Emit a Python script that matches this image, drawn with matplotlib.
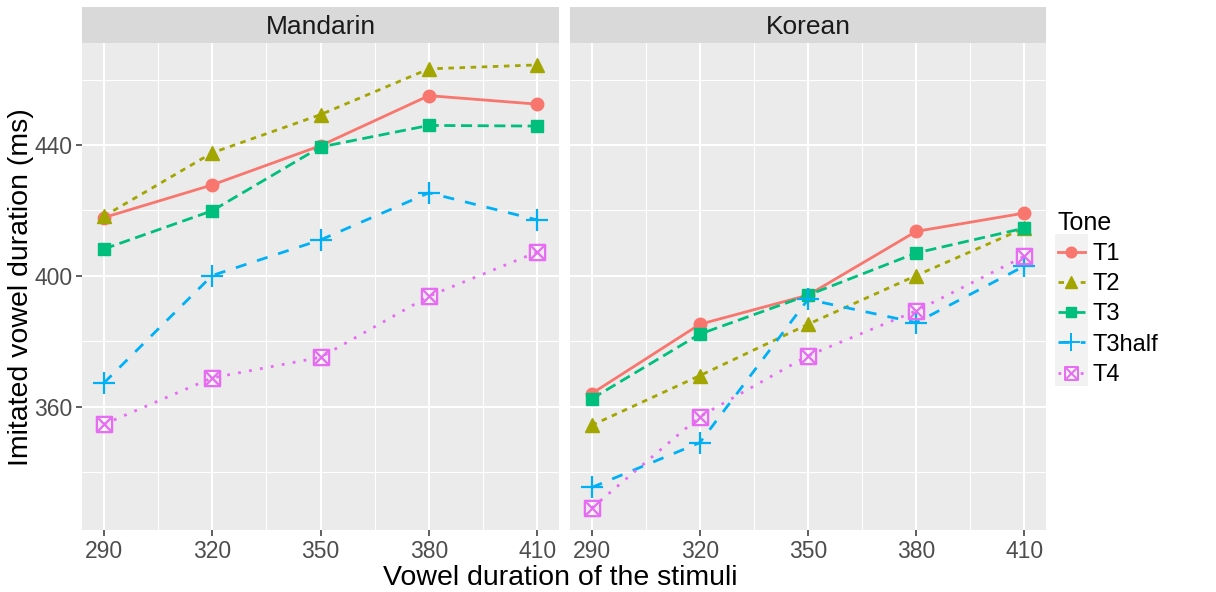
import numpy as np
import matplotlib
matplotlib.use("Agg")
import matplotlib.pyplot as plt
from matplotlib.path import Path
from matplotlib.lines import Line2D
from matplotlib.patches import Rectangle

plt.rcParams['font.family'] = ['Liberation Sans', 'DejaVu Sans']

# data
stimuli = [290, 320, 350, 380, 410]
tones = ["T1", "T2", "T3", "T3half", "T4"]
languages = ["Mandarin", "Korean"]

mandarin_t1 = [417.8, 427.8, 439.8, 455.1, 452.5]
mandarin_t2 = [418.2, 437.6, 449.3, 463.3, 464.5]
mandarin_t3 = [408.2, 419.9, 439.4, 446.0, 445.8]
mandarin_t3half = [367.2, 400.1, 411.0, 425.4, 417.1]
mandarin_t4 = [354.6, 368.8, 375.1, 393.8, 407.3]

korean_t1 = [364.0, 385.2, 394.1, 413.6, 419.2]
korean_t2 = [354.3, 369.5, 385.2, 400.1, 414.6]
korean_t3 = [362.4, 382.2, 394.1, 407.0, 414.6]
korean_t3half = [335.3, 349.0, 392.8, 385.7, 403.0]
korean_t4 = [329.0, 357.0, 375.6, 389.3, 406.0]

data = {
    "Mandarin": [mandarin_t1, mandarin_t2, mandarin_t3, mandarin_t3half, mandarin_t4],
    "Korean": [korean_t1, korean_t2, korean_t3, korean_t3half, korean_t4],
}

# ggplot hue palette + default linetypes/shapes
colors = ["#F8766D", "#A3A500", "#00BF7D", "#00B0F6", "#E76BF3"]
dashes = [None, (2, 2), (4, 2), (4, 4), (1, 3)]

# boxed cross marker (ggplot shape 7)
box_x = Path(
    [(-1, -1), (1, -1), (1, 1), (-1, 1), (-1, -1), (-1, -1), (1, 1), (-1, 1), (1, -1)],
    [Path.MOVETO, Path.LINETO, Path.LINETO, Path.LINETO, Path.CLOSEPOLY,
     Path.MOVETO, Path.LINETO, Path.MOVETO, Path.LINETO],
)
markers = ["o", "^", "s", "+", box_x]
msizes = [9, 10, 9, 16, 11]

W, H = 1216, 592
fig = plt.figure(figsize=(W / 100, H / 100), dpi=100)

def fx(px):
    return px / W

def fy(py):
    return 1 - py / H

panel_top, panel_bot = 43, 530
strip_top = 7
panels = [(82, 559), (570, 1046)]

tick_col = "#4D4D4D"
for i, lang in enumerate(languages):
    x0, x1 = panels[i]
    ax = fig.add_axes([fx(x0), fy(panel_bot), fx(x1 - x0), (panel_bot - panel_top) / H])
    ax.set_facecolor("#EBEBEB")
    for s in ax.spines.values():
        s.set_visible(False)
    ax.set_xlim(284, 416)
    ax.set_ylim(322.3, 471.2)
    ax.set_xticks(stimuli)
    ax.set_xticks([305, 335, 365, 395], minor=True)
    ax.set_yticks([360, 400, 440])
    ax.set_yticks([340, 380, 420, 460], minor=True)
    ax.grid(True, which="major", color="white", lw=1.5)
    ax.grid(True, which="minor", color="white", lw=0.75)
    ax.set_axisbelow(True)
    ax.tick_params(which="minor", length=0)
    ax.tick_params(which="major", length=4, width=1.1, color="#333333",
                   labelsize=16.5, labelcolor=tick_col, pad=3)
    if i > 0:
        ax.tick_params(axis="y", which="both", left=False, labelleft=False)

    # lines first, then points (like geom_line + geom_point)
    for k, tone in enumerate(tones):
        ln, = ax.plot(stimuli, data[lang][k], color=colors[k], lw=2, zorder=2)
        if dashes[k] is not None:
            ln.set_dashes(dashes[k])
    for k, tone in enumerate(tones):
        ax.plot(stimuli, data[lang][k], ls="none", marker=markers[k], ms=msizes[k],
                color=colors[k], mfc="none" if k == 4 else colors[k],
                mew=1.6 if k >= 3 else 1, zorder=3)

    # facet strip
    sax = fig.add_axes([fx(x0), fy(panel_top), fx(x1 - x0), (panel_top - strip_top) / H])
    sax.set_facecolor("#D9D9D9")
    sax.set_xticks([])
    sax.set_yticks([])
    for s in sax.spines.values():
        s.set_visible(False)
    sax.text(0.5, 0.45, lang, ha="center", va="center", fontsize=19, color="#1A1A1A",
             transform=sax.transAxes)

# legend
handles = []
for k, tone in enumerate(tones):
    h = Line2D([], [], color=colors[k], lw=2, marker=markers[k], ms=msizes[k] * 0.85,
               mfc="none" if k == 4 else colors[k], mew=1.4 if k >= 3 else 1)
    if dashes[k] is not None:
        h.set_dashes(dashes[k])
    handles.append(h)

# grey key column behind the legend keys
fig.patches.append(Rectangle((fx(1055), fy(386)), fx(33), (386 - 234) / H,
                             transform=fig.transFigure, facecolor="#F2F2F2",
                             edgecolor="none", zorder=0))

leg = fig.legend(handles, tones, loc="upper left", bbox_to_anchor=(fx(1041), fy(194)),
                 frameon=False, fontsize=17, title="Tone", title_fontsize=18,
                 handlelength=1.15, handletextpad=0.35, labelspacing=0.35,
                 borderpad=0.2)
leg._legend_box.align = "left"

fig.text(fx(560), fy(578), "Vowel duration of the stimuli", ha="center", va="center",
         fontsize=20.5)
fig.text(fx(21), fy(287), "Imitated vowel duration (ms)", ha="center", va="center",
         rotation=90, fontsize=20.5)

fig.savefig("out.png", dpi=100)
